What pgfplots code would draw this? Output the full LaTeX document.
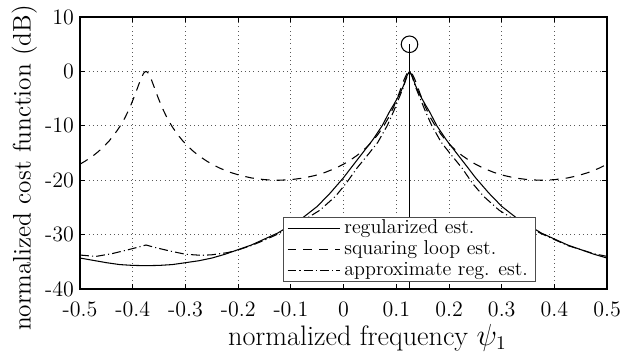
\documentclass[border=0pt]{standalone}
\usepackage{pgfplots}
\pgfplotsset{compat=1.18}
\begin{document}
\begin{tikzpicture}
\begin{axis}[
  scale only axis, width=299.4pt, height=154.5pt,
  xmin=-0.5, xmax=0.5, ymin=-40, ymax=10,
  xtick={-0.5,-0.4,-0.3,-0.2,-0.1,0,0.1,0.2,0.3,0.4,0.5},
  xticklabels={-0.5,-0.4,-0.3,-0.2,-0.1,0,0.1,0.2,0.3,0.4,0.5},
  ytick={-40,-30,-20,-10,0,10},
  yticklabels={-40,-30,-20,-10,0,10},
  xticklabel shift=3.8pt,
  tick align=inside, xtick pos=both, ytick pos=both,
  major tick length=3pt,
  every tick/.style={black, line width=0.5pt},
  grid=major,
  major grid style={dotted, line width=0.5pt, black!65},
  axis line style={line width=0.8pt},
  tick label style={font=\fontsize{12.5}{14}\selectfont},
  every axis x label/.style={font=\fontsize{16}{19}\selectfont, at={(axis description cs:0.545,-0.206)}, anchor=base},
  every axis y label/.style={font=\fontsize{14.4}{17}\selectfont, at={(axis description cs:-0.106,0.445)}, anchor=center, rotate=90},
  xlabel={normalized frequency $\psi_1$},
  ylabel={normalized cost function (dB)},
  legend style={at={(axis description cs:0.385,0.026)}, anchor=south west, draw=black!70, fill=white,
    font=\fontsize{11.4}{13}\selectfont, line width=0.5pt, inner ysep=0.5pt, inner xsep=2pt,
    nodes={inner ysep=1pt, text height=7.6pt, text depth=2.2pt}},
  legend cell align=left,
  legend image code/.code={\draw[#1] (0pt,0pt) -- (30pt,0pt);},
]
% stem
\addplot[forget plot, black, line width=0.5pt] coordinates {(0.125,-40) (0.125,5)};
\addplot[forget plot, only marks, mark=o, mark size=4.7pt, mark options={fill=white, line width=0.6pt, black}] coordinates {(0.125,5)};
% regularized
\addplot[black, line width=0.6pt] coordinates {
(-0.5,-34.3) (-0.45,-35.15) (-0.425,-35.5) (-0.4,-35.65) (-0.375,-35.7) (-0.35,-35.65) (-0.325,-35.5)
(-0.275,-34.8) (-0.25,-34.3) (-0.225,-33.6) (-0.175,-31.9) (-0.125,-29.7) (-0.079,-27.0)
(-0.05,-24.8) (-0.025,-22.3) (0,-19.5) (0.015,-17.6) (0.035,-15.1) (0.055,-12.6) (0.073,-10.0)
(0.08,-8.7) (0.087,-7.4) (0.095,-6.1) (0.102,-4.9) (0.108,-3.8) (0.114,-2.5) (0.117,-1.6)
(0.121,-0.6) (0.125,0)
(0.129,-0.6) (0.133,-1.6) (0.136,-2.5) (0.142,-3.8) (0.148,-4.9) (0.155,-6.1) (0.163,-7.4)
(0.17,-8.7) (0.177,-10.0) (0.195,-12.6) (0.215,-15.1) (0.235,-17.6) (0.25,-19.5) (0.275,-22.3)
(0.3,-24.8) (0.329,-27.0) (0.375,-29.7) (0.425,-31.9) (0.475,-33.6) (0.5,-34.3)
};
\addlegendentry{regularized est.}
% squaring loop
\addplot[black, line width=0.6pt, dash pattern=on 5pt off 4pt] coordinates {
(-0.5,-17.03) (-0.49,-16.46) (-0.475,-15.47) (-0.465,-14.69) (-0.455,-13.80) (-0.445,-12.78)
(-0.435,-11.59) (-0.425,-10.19) (-0.415,-8.53) (-0.405,-6.51) (-0.395,-4.07) (-0.39,-2.73)
(-0.385,-1.43) (-0.38,-0.41) (-0.3775,-0.11) (-0.375,0) (-0.3725,-0.11) (-0.37,-0.41)
(-0.365,-1.43) (-0.36,-2.73) (-0.355,-4.07) (-0.345,-6.51) (-0.335,-8.53) (-0.325,-10.19)
(-0.315,-11.59) (-0.305,-12.78) (-0.295,-13.80) (-0.285,-14.69) (-0.275,-15.47) (-0.26,-16.46)
(-0.25,-17.03) (-0.235,-17.77) (-0.215,-18.55) (-0.195,-19.14) (-0.175,-19.57) (-0.15,-19.89)
(-0.125,-20) (-0.1,-19.89) (-0.075,-19.57) (-0.055,-19.14) (-0.035,-18.55) (-0.015,-17.77)
(0,-17.03) (0.01,-16.46) (0.025,-15.47) (0.035,-14.69) (0.045,-13.80) (0.055,-12.78)
(0.065,-11.59) (0.075,-10.19) (0.085,-8.53) (0.095,-6.51) (0.105,-4.07) (0.11,-2.73)
(0.115,-1.43) (0.12,-0.41) (0.1225,-0.11) (0.125,0) (0.1275,-0.11) (0.13,-0.41)
(0.135,-1.43) (0.14,-2.73) (0.145,-4.07) (0.155,-6.51) (0.165,-8.53) (0.175,-10.19)
(0.185,-11.59) (0.195,-12.78) (0.205,-13.80) (0.215,-14.69) (0.225,-15.47) (0.24,-16.46)
(0.25,-17.03) (0.265,-17.77) (0.285,-18.55) (0.305,-19.14) (0.325,-19.57) (0.35,-19.89)
(0.375,-20) (0.4,-19.89) (0.425,-19.57) (0.445,-19.14) (0.465,-18.55) (0.485,-17.77) (0.5,-17.03)
};
\addlegendentry{squaring loop est.}
% approximate regularized
\addplot[black, line width=0.6pt, dash pattern=on 5pt off 1.8pt on 0.6pt off 1.8pt] coordinates {
(-0.5,-33.75) (-0.47,-34.0) (-0.44,-33.5) (-0.41,-32.8) (-0.39,-32.3) (-0.375,-31.9) (-0.36,-32.3)
(-0.33,-33.0) (-0.3,-33.6) (-0.27,-33.8) (-0.25,-33.7) (-0.22,-33.3) (-0.2,-32.8) (-0.175,-32.0)
(-0.15,-31.0) (-0.125,-29.9) (-0.1,-28.7) (-0.075,-27.3) (-0.045,-25.5) (-0.015,-22.9)
(0.006,-20.4) (0.025,-17.8) (0.047,-15.2) (0.065,-13.0) (0.083,-9.9) (0.095,-7.3) (0.105,-4.9)
(0.113,-3.0) (0.117,-1.8) (0.121,-0.7) (0.125,0)
(0.129,-0.7) (0.133,-1.8) (0.137,-3.0) (0.145,-4.9) (0.155,-7.3) (0.167,-9.9) (0.185,-13.0)
(0.203,-15.2) (0.225,-17.8) (0.244,-20.5) (0.265,-22.9) (0.295,-25.5) (0.325,-27.3)
(0.35,-28.6) (0.375,-29.8) (0.425,-32.0) (0.475,-33.5) (0.5,-34.0)
};
\addlegendentry{approximate reg. est.}
\end{axis}
\pgfresetboundingbox
\path ([shift={(-45.5pt,-36.4pt)}]current axis.south west) rectangle ([shift={(9pt,9.7pt)}]current axis.north east);
\end{tikzpicture}
\end{document}
